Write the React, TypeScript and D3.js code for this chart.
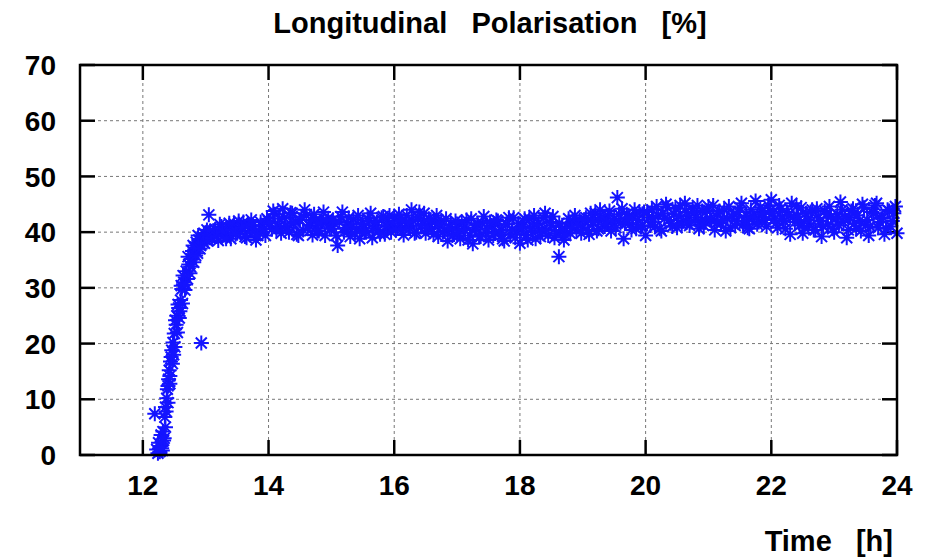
import React from "react";
import * as d3 from "d3";

const xTicks = [12, 14, 16, 18, 20, 22, 24];
const yTicks = [0, 10, 20, 30, 40, 50, 60, 70];

// [time (h), polarisation (%)]
const riseSamples: [number, number][] = [
  [12.19, 7.4], [12.22, 1.0], [12.24, 0.3], [12.25, 2.2], [12.27, 0.6], [12.28, 1.6], [12.29, 3.6],
  [12.31, 0.8], [12.32, 4.2], [12.33, 2.6], [12.35, 6.8], [12.36, 8.6], [12.37, 7.8], [12.38, 10.2],
  [12.39, 11.8], [12.40, 9.4], [12.41, 13.6], [12.42, 15.2], [12.43, 12.8], [12.44, 16.8], [12.46, 18.8],
  [12.47, 16.4], [12.48, 20.2], [12.50, 21.8], [12.51, 19.4], [12.53, 23.4], [12.54, 25.0], [12.55, 22.0],
  [12.57, 26.4], [12.58, 24.6], [12.60, 27.8], [12.62, 29.8], [12.63, 27.2], [12.65, 31.0], [12.67, 29.6],
  [12.69, 33.0], [12.71, 31.6], [12.73, 34.2], [12.75, 32.6], [12.77, 35.2], [12.79, 36.6], [12.81, 34.6],
  [12.83, 37.2], [12.85, 38.2], [12.87, 36.2], [12.89, 38.6], [12.92, 37.6], [12.93, 20.1], [12.95, 39.2],
  [12.98, 38.0], [13.00, 39.6], [13.03, 38.4], [13.05, 43.1], [13.07, 40.2],
];

const riseExtra: [number, number][] = [
  [12.30, 1.2], [12.34, 3.0], [12.36, 5.0], [12.40, 12.4], [12.43, 14.2], [12.45, 17.6], [12.49, 18.0],
  [12.52, 24.2], [12.56, 27.0], [12.59, 25.8], [12.61, 30.4], [12.64, 32.2], [12.68, 30.6], [12.72, 35.6],
  [12.76, 33.8], [12.80, 37.6], [12.84, 35.8], [12.88, 39.4], [12.91, 37.0], [12.97, 39.8], [13.02, 40.4],
  [13.06, 39.0],
];

const plateauA: [number, number][] = [
  [13.10, 39.0], [13.15, 40.5], [13.20, 38.5], [13.25, 41.0], [13.30, 39.5], [13.35, 40.8], [13.40, 38.8],
  [13.45, 41.5], [13.50, 39.8], [13.55, 40.2], [13.60, 41.8], [13.65, 39.0], [13.70, 40.6], [13.75, 41.2],
  [13.80, 38.6], [13.85, 40.0], [13.90, 41.0], [13.95, 39.4],
  [14.00, 42.0], [14.05, 40.5], [14.10, 43.2], [14.15, 41.0], [14.20, 39.8], [14.25, 42.6], [14.30, 40.8],
  [14.35, 43.5], [14.40, 41.5], [14.45, 39.6], [14.50, 42.2], [14.55, 40.4], [14.60, 43.0], [14.65, 41.2],
  [14.70, 39.5], [14.75, 42.0], [14.80, 40.2], [14.85, 41.8], [14.90, 39.4], [14.95, 42.5],
  [15.00, 40.6], [15.05, 41.5], [15.10, 37.6], [15.15, 42.8], [15.20, 40.0], [15.25, 41.4], [15.30, 39.2],
  [15.35, 42.3], [15.40, 40.5], [15.45, 38.8], [15.50, 41.6], [15.55, 40.2], [15.60, 42.0], [15.65, 39.0],
  [15.70, 41.2], [15.75, 40.4], [15.80, 42.6], [15.85, 39.6], [15.90, 41.0], [15.95, 40.0],
];

const plateauB: [number, number][] = [
  [16.00, 42.5], [16.05, 40.8], [16.10, 41.6], [16.15, 39.5], [16.20, 43.0], [16.25, 41.2], [16.30, 42.0],
  [16.35, 40.0], [16.40, 43.6], [16.45, 41.5], [16.50, 39.8], [16.55, 42.4], [16.60, 40.6], [16.65, 41.8],
  [16.70, 39.2], [16.75, 42.0], [16.80, 40.2], [16.85, 38.4], [16.90, 41.4], [16.95, 39.6],
  [17.00, 41.0], [17.05, 38.8], [17.10, 40.6], [17.15, 42.2], [17.20, 39.4], [17.25, 37.9], [17.30, 40.8],
  [17.35, 39.2], [17.40, 41.6], [17.45, 40.0], [17.50, 38.6], [17.55, 41.2], [17.60, 39.8], [17.65, 42.0],
  [17.70, 40.4], [17.75, 38.4], [17.80, 41.4], [17.85, 39.6], [17.90, 42.6], [17.95, 40.2],
  [18.00, 38.0], [18.05, 41.0], [18.10, 39.5], [18.15, 42.4], [18.20, 40.0], [18.25, 38.8], [18.30, 41.6],
  [18.35, 40.2], [18.40, 43.4], [18.45, 39.4], [18.50, 41.2], [18.55, 39.0], [18.62, 35.6], [18.65, 40.4],
  [18.70, 38.6], [18.75, 41.0], [18.80, 39.8], [18.85, 41.8], [18.90, 40.4], [18.95, 42.2],
  [19.00, 40.8], [19.05, 42.6], [19.10, 39.6], [19.15, 41.8], [19.20, 43.4], [19.25, 40.6], [19.30, 42.2],
  [19.35, 41.0], [19.40, 43.0], [19.45, 40.2], [19.50, 42.4], [19.55, 46.2], [19.60, 41.6], [19.65, 38.8],
  [19.70, 43.2], [19.75, 41.4], [19.80, 42.8], [19.85, 40.6], [19.90, 43.6], [19.95, 41.2],
];

const plateauC: [number, number][] = [
  [20.00, 39.4], [20.05, 42.6], [20.10, 44.0], [20.15, 41.0], [20.20, 43.0], [20.25, 40.2], [20.30, 42.4],
  [20.35, 44.4], [20.40, 41.6], [20.45, 43.2], [20.50, 40.8], [20.55, 44.8], [20.60, 42.0], [20.65, 43.6],
  [20.70, 41.2], [20.75, 44.2], [20.80, 42.6], [20.85, 40.6], [20.90, 43.8], [20.95, 41.8],
  [21.00, 44.6], [21.05, 42.2], [21.10, 40.4], [21.15, 43.4], [21.20, 41.6], [21.25, 44.0], [21.30, 42.4],
  [21.35, 40.8], [21.40, 43.2], [21.45, 42.0], [21.50, 44.4], [21.55, 41.4], [21.60, 43.0], [21.65, 40.6],
  [21.70, 42.8], [21.75, 45.6], [21.80, 41.8], [21.85, 43.6], [21.90, 42.2], [21.95, 44.8],
  [22.00, 45.8], [22.05, 42.4], [22.10, 40.8], [22.15, 44.2], [22.20, 42.0], [22.25, 43.6], [22.30, 39.6],
  [22.35, 42.8], [22.40, 44.6], [22.45, 41.2], [22.50, 39.8], [22.55, 43.4], [22.60, 41.6], [22.65, 44.0],
  [22.70, 40.4], [22.75, 42.6], [22.80, 39.2], [22.85, 43.8], [22.90, 41.4], [22.95, 42.8],
  [23.00, 40.0], [23.05, 43.2], [23.10, 45.4], [23.15, 41.8], [23.20, 39.0], [23.25, 42.6], [23.30, 44.2],
  [23.35, 40.6], [23.40, 42.0], [23.45, 45.0], [23.50, 41.2], [23.55, 39.4], [23.60, 43.6], [23.65, 44.8],
  [23.70, 40.8], [23.75, 42.4], [23.80, 39.6], [23.85, 44.0], [23.90, 41.0], [23.95, 43.4], [24.00, 39.8],
];

// Interleaved readings, sampled every 0.05 h from each start time
const extraStart = [13.125, 14.025, 15.025, 16.025, 17.025, 18.025, 19.025, 20.025, 21.025, 22.025, 23.025];
const extraValues: number[][] = [
  [40.2, 39.2, 41.4, 40.0, 38.8, 41.6, 40.4, 39.6, 42.0, 40.8, 39.2, 41.2, 42.2, 40.0, 39.4, 41.8, 40.6, 42.4],
  [41.6, 43.8, 40.4, 42.4, 44.2, 41.2, 40.0, 43.4, 41.8, 39.4, 42.8, 44.0, 40.6, 42.2, 43.2, 40.2, 41.6, 43.6, 42.0, 40.6],
  [42.2, 39.4, 41.8, 43.6, 40.8, 42.6, 41.0, 39.8, 43.0, 41.4, 40.0, 42.4, 43.4, 40.6, 41.8, 39.6, 42.8, 41.2, 43.0, 41.6],
  [40.4, 43.2, 42.0, 40.6, 41.8, 44.0, 39.8, 42.6, 41.2, 43.4, 40.8, 42.2, 39.6, 43.0, 41.4, 40.0, 42.4, 40.8, 39.4, 42.0],
  [39.8, 41.8, 40.4, 38.6, 42.4, 40.8, 41.6, 39.2, 42.8, 40.6, 41.8, 39.4, 42.2, 40.0, 38.8, 41.4, 42.6, 40.4, 39.0, 41.6],
  [40.8, 42.4, 38.6, 40.6, 43.0, 41.4, 39.2, 42.6, 40.4, 41.8, 42.8, 39.8, 41.6, 40.2, 39.4, 42.4, 40.8, 43.0, 41.2, 39.8],
  [42.2, 40.4, 43.4, 41.8, 40.2, 44.0, 42.4, 41.4, 43.8, 42.0, 40.8, 43.2, 44.2, 41.6, 42.6, 40.4, 44.0, 42.2, 41.0, 43.6],
  [43.6, 41.2, 42.4, 44.6, 40.6, 43.4, 45.0, 42.2, 41.0, 44.2, 42.8, 41.4, 45.2, 43.0, 41.8, 43.6, 44.8, 42.0, 41.2, 43.8],
  [42.4, 44.8, 41.6, 43.8, 42.2, 40.2, 44.6, 42.8, 41.2, 43.6, 45.2, 42.0, 40.8, 44.0, 42.6, 41.4, 44.4, 43.2, 41.0, 43.8],
  [43.4, 41.6, 44.8, 42.4, 40.6, 43.0, 45.2, 41.8, 42.8, 44.4, 40.8, 42.2, 43.6, 40.4, 44.2, 42.0, 41.0, 43.2, 44.6, 40.6],
  [42.4, 41.2, 44.0, 42.8, 40.4, 43.8, 41.6, 43.0, 40.2, 44.4, 42.2, 41.0, 43.4, 45.2, 41.8, 42.6, 40.6, 43.8, 42.0, 44.6],
];

const extraSamples: [number, number][] = extraValues.flatMap((vals, k) =>
  vals.map((v, i) => [extraStart[k] + 0.05 * i, v] as [number, number])
);

const samples = [...riseSamples, ...riseExtra, ...plateauA, ...plateauB, ...plateauC, ...extraSamples];

const W = 926;
const H = 557;
const left = 80, right = 897, top = 65, bottom = 455;
const FONT = "'Liberation Sans', Arial, Helvetica, sans-serif";

export default function App() {
  const x = d3.scaleLinear().domain([11, 24]).range([left, right]);
  const y = d3.scaleLinear().domain([0, 70]).range([bottom, top]);
  const tick = 15;
  const r = 7.5, a = 5.5;
  const star = `M${-r},0H${r}M0,${-r}V${r}M${-a},${-a}L${a},${a}M${-a},${a}L${a},${-a}`;

  return (
    <svg width={W} height={H} style={{ position: "absolute", left: 0, top: 0, background: "#fff" }}>
      <rect x={0} y={0} width={W} height={H} fill="#fff" />
      {/* grid */}
      <g stroke="#777" strokeWidth={1} strokeDasharray="3,3">
        {xTicks.filter((t) => t < 24).map((t) => (
          <line key={"gx" + t} x1={x(t)} x2={x(t)} y1={top} y2={bottom} />
        ))}
        {yTicks.filter((t) => t > 0 && t < 70).map((t) => (
          <line key={"gy" + t} x1={left} x2={right} y1={y(t)} y2={y(t)} />
        ))}
      </g>
      {/* ticks */}
      <g stroke="#000" strokeWidth={2.5}>
        {xTicks.map((t) => (
          <g key={"tx" + t}>
            <line x1={x(t)} x2={x(t)} y1={bottom} y2={bottom - tick} />
            <line x1={x(t)} x2={x(t)} y1={top} y2={top + tick} />
          </g>
        ))}
        {yTicks.map((t) => (
          <g key={"ty" + t}>
            <line x1={left} x2={left + tick} y1={y(t)} y2={y(t)} />
            <line x1={right} x2={right - tick} y1={y(t)} y2={y(t)} />
          </g>
        ))}
      </g>
      {/* points */}
      <g stroke="#1414ff" strokeWidth={2} fill="none">
        {samples.map(([t, v], i) => (
          <path key={i} d={star} transform={`translate(${x(t)},${y(v)})`} />
        ))}
      </g>
      {/* frame */}
      <rect x={left} y={top} width={right - left} height={bottom - top} fill="none" stroke="#000" strokeWidth={2.5} />
      {/* labels */}
      <g fontFamily={FONT} fontWeight="bold" fontSize={28} fill="#000">
        {yTicks.map((t) => (
          <text key={"ly" + t} x={56} y={y(t)} dy="0.36em" textAnchor="end">{t}</text>
        ))}
        {xTicks.map((t) => (
          <text key={"lx" + t} x={x(t)} y={495} textAnchor="middle">{t}</text>
        ))}
        <text x={490} y={33} textAnchor="middle" fontSize={29} style={{ whiteSpace: "pre" }}>
          {"Longitudinal   Polarisation   [%]"}
        </text>
        <text x={893} y={551} textAnchor="end" fontSize={29} style={{ whiteSpace: "pre" }}>
          {"Time   [h]"}
        </text>
      </g>
    </svg>
  );
}
